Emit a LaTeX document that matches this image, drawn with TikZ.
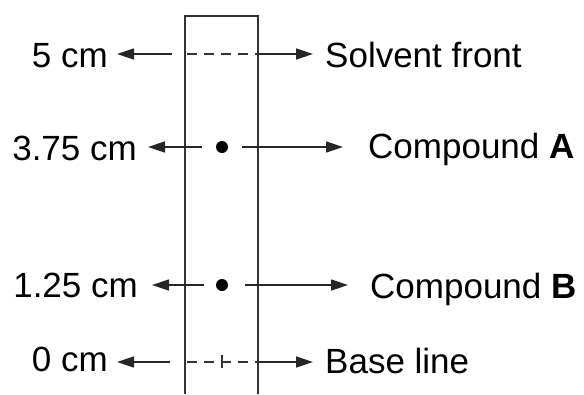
\documentclass[tikz,border=0pt]{standalone}
\usepackage{fontspec}
\setmainfont{Liberation Sans}
\usetikzlibrary{arrows.meta}
\begin{document}
\begin{tikzpicture}[x=1pt,y=-1pt,
  lbl/.style={inner sep=0pt, font=\fontsize{35}{40}\selectfont},
  edge/.style={line width=1.7pt, draw=black!80},
  arr/.style={line width=1.5pt, draw=black!85, -{Triangle[length=17pt,width=11pt]}},
  spot/.style={circle, fill=black, inner sep=0pt, minimum size=12pt},
  rule/.style={line width=1.5pt, draw=black!80, dash pattern=on 10pt off 7pt, dash phase=-2pt}]
\useasboundingbox (0,0) rectangle (584,394);

% TLC strip, open at the bottom
\draw[edge] (185,394) -- (185,16) -- (258,16) -- (258,394);

% solvent front
\coordinate (sfL) at (185,54);
\coordinate (sfR) at (258,54);
\coordinate (sfA) at (172,54);
\draw[rule] (sfL) -- (sfR);
\node[lbl, anchor=base east] (d5) at (108,67) {5 cm};
\node[lbl, anchor=base west] (sf) at (325,67) {Solvent front};
\draw[arr, shorten >=9pt] (sfA) -- (sfA -| d5.east);
\draw[arr, shorten >=12pt] (sfR) -- (sfR -| sf.west);

% compound A
\node[spot] (ca) at (222,147) {};
\node[lbl, anchor=base east] (d375) at (137,160) {3.75 cm};
\node[lbl, anchor=base west] (la) at (368,158) {Compound \textbf{A}};
\draw[arr, shorten <=14pt, shorten >=11pt] (ca) -- (ca -| d375.east);
\draw[arr, shorten <=14pt, shorten >=25pt] (ca) -- (ca -| la.west);

% compound B
\node[spot] (cb) at (222,285) {};
\node[lbl, anchor=base east] (d125) at (138,297) {1.25 cm};
\node[lbl, anchor=base west] (lb) at (370,298) {Compound \textbf{B}};
\draw[arr, shorten <=12pt, shorten >=14pt] (cb) -- (cb -| d125.east);
\draw[arr, shorten <=17pt, shorten >=22pt] (cb) -- (cb -| lb.west);

% base line with origin mark
\coordinate (blL) at (185,362);
\coordinate (blR) at (258,362);
\coordinate (blA) at (170,362);
\coordinate (tkT) at (222,355);
\coordinate (tkB) at (222,368);
\draw[rule] (blL) -- (blR);
\draw[line width=1.5pt, draw=black!80] (tkT) -- (tkB);
\node[lbl, anchor=base east] (d0) at (108,371) {0 cm};
\node[lbl, anchor=base west] (bl) at (325,373) {Base line};
\draw[arr, shorten >=9pt] (blA) -- (blA -| d0.east);
\draw[arr, shorten >=12pt] (blR) -- (blR -| bl.west);
\end{tikzpicture}
\end{document}
